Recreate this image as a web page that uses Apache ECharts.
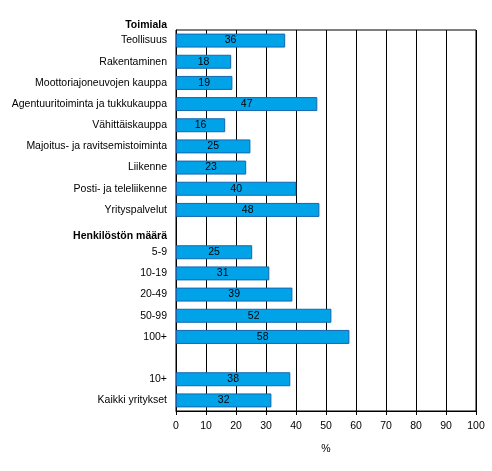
<!DOCTYPE html>
<html>
<head>
<meta charset="utf-8">
<script src="https://cdn.jsdelivr.net/npm/echarts@6/dist/echarts.min.js"></script>
<style>
  html, body { margin: 0; padding: 0; background: #fff; }
  #chart { width: 492px; height: 471px; }
</style>
</head>
<body>
<div id="chart"></div>
<script>
// 数据
const groupTitle = "Toimiala";
const categories = [
  "Teollisuus", "Rakentaminen", "Moottoriajoneuvojen kauppa",
  "Agentuuritoiminta ja tukkukauppa", "Vähittäiskauppa",
  "Majoitus- ja ravitsemistoiminta", "Liikenne", "Posti- ja teleliikenne",
  "Yrityspalvelut", "Henkilöstön määrä", "5-9", "10-19", "20-49", "50-99",
  "100+", "", "10+", "Kaikki yritykset"
];
const values = [
  36.4, 18.4, 18.8, 47.1, 16.4, 24.8, 23.4, 40.1, 47.8,
  null, 25.4, 31.1, 38.8, 51.8, 57.8, null, 38.1, 31.8
];
const headers = ["Henkilöstön määrä"];
const xTicks = { min: 0, max: 100, interval: 10 };

(function () {
  let myChart = echarts.init(document.getElementById("chart"));
  const font = "Liberation Sans, Arial, sans-serif";
  const fs = 10.5;
  let option = {
    animation: false,
    textStyle: { fontFamily: font },
    grid: {
      left: 176, right: 16, top: 30, bottom: 60,
      show: true, borderColor: "#000", borderWidth: 1,
      containLabel: false
    },
    graphic: [{
      type: "text",
      x: 167, y: 25,
      style: {
        text: groupTitle, align: "right", verticalAlign: "middle",
        font: "bold " + fs + "px " + font, fill: "#000"
      }
    }],
    xAxis: {
      type: "value",
      min: xTicks.min, max: xTicks.max, interval: xTicks.interval,
      name: "%", nameLocation: "middle", nameGap: 33,
      nameTextStyle: { color: "#000", fontSize: fs, fontFamily: font },
      axisLine: { show: true, lineStyle: { color: "#000", width: 1 } },
      axisTick: { show: true, length: 4, lineStyle: { color: "#000" } },
      axisLabel: { color: "#000", fontSize: fs, margin: 10, fontFamily: font },
      splitLine: { show: true, lineStyle: { color: "#000", width: 1 } }
    },
    yAxis: {
      type: "category",
      inverse: true,
      data: categories,
      axisLine: { show: true, lineStyle: { color: "#000", width: 1 } },
      axisTick: { show: false },
      axisLabel: {
        color: "#000", fontSize: fs, margin: 9, fontFamily: font,
        interval: 0,
        formatter: function (v) {
          return headers.indexOf(v) >= 0 ? "{h|" + v + "}" : v;
        },
        rich: {
          h: { fontWeight: "bold", fontSize: fs, color: "#000", padding: [10, 0, 0, 0], fontFamily: font }
        }
      }
    },
    series: [{
      type: "bar",
      data: values,
      barCategoryGap: "34%",
      itemStyle: { color: "#00a3e8", borderColor: "#1466b0", borderWidth: 1 },
      label: {
        show: true, position: "inside", color: "#000", fontSize: fs, fontFamily: font,
        formatter: function (p) { return p.value == null ? "" : Math.round(p.value); }
      }
    }]
  };
  myChart.setOption(option);
  window.addEventListener("resize", function () {
    myChart.resize();
  });
})();
</script>
</body>
</html>
